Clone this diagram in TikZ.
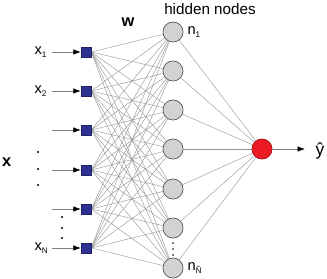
\documentclass[tikz,border=0pt]{standalone}
\usepackage{fontspec}
\setmainfont{Liberation Sans}
\usepackage{tikz}
\usetikzlibrary{arrows.meta, positioning, calc}
\definecolor{inblue}{HTML}{2E3192}
\definecolor{outred}{HTML}{ED1C24}
\newcommand{\lowsub}[1]{\raisebox{-0.35ex}{\fontsize{7}{8}\selectfont #1}}
\tikzset{
    in_box/.style={rectangle, draw=inblue!70!black, fill=inblue, minimum size=0.3cm, inner sep=0pt},
    hid_node/.style={circle, draw=gray!70!black, fill=gray!35, minimum size=0.6cm, inner sep=0pt, line width=0.5pt},
    out_node/.style={circle, draw=outred!70!black, fill=outred, minimum size=0.6cm, inner sep=0pt, line width=0.5pt},
    wire/.style={gray!85, line width=0.35pt},
    in_arrow/.style={-{Latex[length=2.2mm, width=1.6mm, color=black]}, gray, line width=0.5pt},
    lbl/.style={font=\fontsize{12.5}{14}\selectfont, inner sep=0pt}
}

\begin{document}
\begin{tikzpicture}

    \useasboundingbox (0,0) rectangle (9.81,-8.37);

    % Inputs
    \node[in_box] (i1) at (2.58,-1.56) {};
    \node[in_box] (i2) at (2.58,-2.73) {};
    \node[in_box] (i3) at (2.58,-3.90) {};
    \node[in_box] (i4) at (2.58,-5.10) {};
    \node[in_box] (i5) at (2.58,-6.27) {};
    \node[in_box] (i6) at (2.58,-7.44) {};

    % Hidden nodes
    \node[hid_node] (h1) at (5.19,-0.96) {};
    \node[hid_node] (h2) at (5.19,-2.13) {};
    \node[hid_node] (h3) at (5.19,-3.30) {};
    \node[hid_node] (h4) at (5.19,-4.47) {};
    \node[hid_node] (h5) at (5.19,-5.67) {};
    \node[hid_node] (h6) at (5.19,-6.84) {};
    \node[hid_node] (h7) at (5.19,-8.04) {};

    % Output
    \node[out_node] (out) at (7.86,-4.47) {};

    % Weights
    \foreach \i in {1,...,6}
        \foreach \h in {1,...,7}
            \draw[wire] (i\i.east) -- (h\h);
    \foreach \h in {1,...,7}
        \draw[wire] (h\h) -- (out);

    % Nodes again, over the weights
    \foreach \h in {1,...,7}
        \node[hid_node] at (h\h) {};
    \node[out_node] at (out) {};
    \foreach \i in {1,...,6}
        \node[in_box] at (i\i) {};

    % Input arrows
    \coordinate (s1) at (1.56,-1.56);
    \coordinate (s2) at (1.56,-2.73);
    \coordinate (s3) at (1.56,-3.90);
    \coordinate (s4) at (1.56,-5.10);
    \coordinate (s5) at (1.56,-6.27);
    \coordinate (s6) at (1.56,-7.44);
    \foreach \i in {1,...,6}
        \draw[in_arrow] (s\i) -- (i\i.west);

    % Output arrow
    \coordinate (yend) at (9.15,-4.47);
    \draw[in_arrow] (out) -- (yend);

    % Labels
    \node[lbl, anchor=west] (lx1) at (1.03,-1.56) {x\lowsub{1}};
    \node[lbl, anchor=west] (lx2) at (1.03,-2.73) {x\lowsub{2}};
    \node[lbl, anchor=west] (lxn) at (1.03,-7.44) {x\lowsub{N}};
    \node[lbl, font=\fontsize{14}{16}\selectfont\bfseries] (lx) at (0.2,-4.86) {x};
    \node[lbl, font=\fontsize{14}{16}\selectfont\bfseries] (lw) at (3.84,-0.66) {w};
    \node[lbl, font=\fontsize{13}{15}\selectfont] (lhid) at (6.3,-0.27) {hidden nodes};
    \node[lbl, anchor=west] (ln1) at (5.62,-0.96) {n\lowsub{1}};
    \node[lbl, anchor=west] (lnn) at (5.62,-8.04) {n\lowsub{Ñ}};
    \node[lbl, font=\fontsize{15}{17}\selectfont] (ly) at (9.6,-4.52) {ŷ};

    % Dots
    \foreach \y in {-4.56,-5.07,-5.55}
        \fill (1.14,\y) circle (0.035);
    \foreach \y in {-6.51,-6.84,-7.14}
        \fill (1.86,\y) circle (0.035);
    \foreach \y in {-7.29,-7.47,-7.65}
        \fill (5.19,\y) circle (0.025);

\end{tikzpicture}
\end{document}
